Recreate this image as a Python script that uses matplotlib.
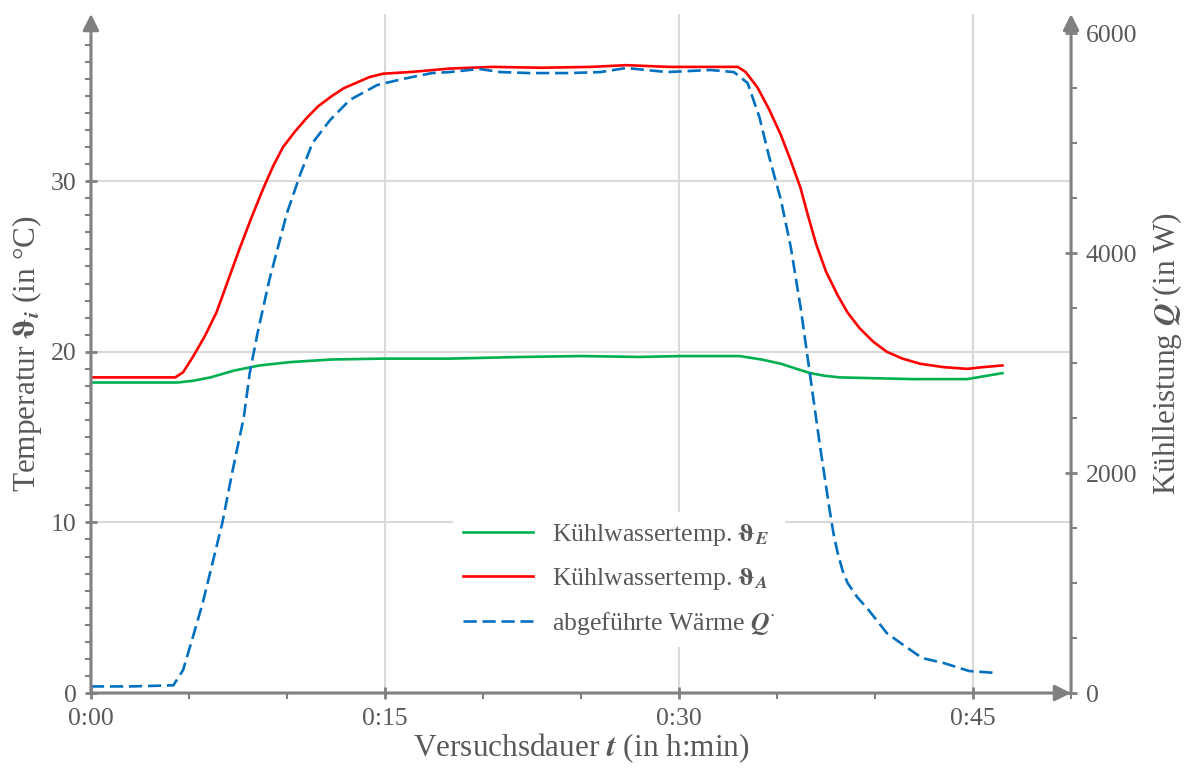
import matplotlib
matplotlib.use("Agg")
import matplotlib.pyplot as plt
from matplotlib.ticker import MultipleLocator

plt.rcParams['font.family'] = ['Liberation Serif', 'DejaVu Serif']
plt.rcParams['mathtext.fontset'] = 'stix'

# --- data (time in minutes) ---
t_out = [0, 2, 4.3, 4.7, 5.2, 5.8, 6.4, 7.0, 7.6, 8.2, 8.8, 9.3, 9.8, 10.4, 11.0, 11.6,
         12.3, 12.9, 13.6, 14.2, 14.9, 15.6, 16.3, 18.3, 20.5, 23.0, 25.5, 27.3, 29.5,
         31.5, 33.0, 33.4, 34.0, 34.6, 35.2, 35.7, 36.2, 36.6, 37.0, 37.5, 38.1, 38.6,
         39.2, 39.9, 40.6, 41.4, 42.3, 43.5, 44.7, 45.5, 46.5]
temp_out = [18.5, 18.5, 18.5, 18.8, 19.7, 20.9, 22.3, 24.2, 26.1, 27.9, 29.6, 30.9, 32.0,
            32.9, 33.7, 34.4, 35.0, 35.45, 35.8, 36.1, 36.3, 36.35, 36.4, 36.6, 36.7, 36.65,
            36.7, 36.8, 36.7, 36.7, 36.7, 36.4, 35.5, 34.2, 32.7, 31.2, 29.6, 27.9, 26.3,
            24.7, 23.3, 22.3, 21.4, 20.6, 20.0, 19.6, 19.3, 19.1, 19.0, 19.1, 19.2]

t_in = [0, 2, 4.4, 5.2, 6.1, 7.3, 8.6, 10.2, 12.3, 14.9, 18.3, 22, 25, 28, 30.1, 33.1,
        34.2, 35.2, 36.0, 36.7, 37.4, 38.2, 40, 41.9, 44.7, 46.5]
temp_in = [18.2, 18.2, 18.2, 18.3, 18.5, 18.9, 19.2, 19.4, 19.55, 19.6, 19.6, 19.7, 19.75,
           19.7, 19.75, 19.75, 19.55, 19.3, 19.0, 18.75, 18.6, 18.5, 18.45, 18.4, 18.4, 18.75]

t_q = [0, 2, 4.2, 4.7, 5.2, 5.7, 6.2, 6.7, 7.2, 7.8, 8.1, 8.5, 9.1, 10.0, 10.7, 11.3, 12.2,
       13.2, 14.6, 15.9, 17.4, 18.3, 19.8, 20.9, 22.4, 24.4, 26.0, 27.3, 29.4, 31.6, 32.8,
       33.5, 34.1, 34.6, 35.2, 35.7, 36.2, 36.7, 37.2, 37.7, 37.9, 38.1, 38.35, 38.6, 39.1,
       39.6, 40.2, 40.6, 41.3, 42.4, 43.5, 44.8, 46.2]
heat = [60, 60, 70, 209, 509, 818, 1182, 1545, 2000, 2509, 2909, 3273, 3755, 4364, 4727,
        5000, 5209, 5391, 5527, 5582, 5636, 5645, 5673, 5645, 5636, 5636, 5645, 5682, 5645,
        5664, 5645, 5545, 5236, 4873, 4482, 4055, 3509, 2873, 2236, 1645, 1430, 1270, 1110,
        1000, 870, 770, 636, 545, 455, 318, 273, 200, 182]

x_ticks = [0, 15, 30, 45]
x_ticklabels = ['0:00', '0:15', '0:30', '0:45']

GREY = '#808080'
TXT = '#595959'

fig = plt.figure(figsize=(11.89, 7.69), dpi=100)
ax = fig.add_axes([0.0765, 0.0988, 0.8243, 0.883])
ax2 = ax.twinx()

l1, = ax.plot(t_in, temp_in, color='#00B050', lw=1.9, label=r'Kühlwassertemp. $\boldsymbol{\vartheta}_{\boldsymbol{E}}$')
l2, = ax.plot(t_out, temp_out, color='#FF0000', lw=1.9, label=r'Kühlwassertemp. $\boldsymbol{\vartheta}_{\boldsymbol{A}}$')
l3, = ax2.plot(t_q, heat, color='#0070C0', lw=1.9, dashes=(5, 2.2),
               label=r'abgeführte Wärme $\boldsymbol{Q}^{\cdot}$')

ax.set_xlim(0, 50)
ax.set_ylim(0, 39.8)
ax2.set_ylim(0, 6173)

ax.set_xticks(x_ticks)
ax.set_xticklabels(x_ticklabels)
ax.xaxis.set_minor_locator(MultipleLocator(5))
ax.yaxis.set_major_locator(MultipleLocator(10))
ax.yaxis.set_minor_locator(MultipleLocator(1))
ax2.yaxis.set_major_locator(MultipleLocator(2000))
ax2.yaxis.set_minor_locator(MultipleLocator(500))

ax.grid(True, which='major', color='#D9D9D9', lw=1.5)
ax.set_axisbelow(True)

for a in (ax, ax2):
    for s in a.spines.values():
        s.set_visible(False)
    a.tick_params(which='major', direction='inout', length=9, width=2, color=GREY,
                  labelsize=18.5, labelcolor=TXT, pad=6)
    a.tick_params(which='minor', direction='out', length=4, width=1.5, color=GREY)

ax.set_xlabel(r'Versuchsdauer $\boldsymbol{t}$ (in h:min)', fontsize=22.5, color=TXT, labelpad=1)
ax.set_ylabel(r'Temperatur $\boldsymbol{\vartheta}_{\boldsymbol{i}}$ (in °C)', fontsize=22.5, color=TXT, labelpad=5)
ax2.set_ylabel(r'Kühlleistung $\boldsymbol{Q}^{\cdot}$(in W)', fontsize=22.5, color=TXT, labelpad=9)

# axis lines with arrow heads
arrow = dict(arrowstyle='-|>', color=GREY, lw=2.2, mutation_scale=24, shrinkA=0, shrinkB=0)
for start, end in [((0, 0), (0, 1)), ((0, 0), (1, 0)), ((1, 0), (1, 1))]:
    ax2.annotate('', xy=end, xytext=start, xycoords='axes fraction',
                 textcoords='axes fraction', arrowprops=arrow, annotation_clip=False)

leg = ax2.legend(handles=[l1, l2, l3], loc='upper left', bbox_to_anchor=(440 / 1189, 1 - 499 / 769),
                 bbox_transform=fig.transFigure, fontsize=18.5, frameon=True, facecolor='white',
                 edgecolor='none', framealpha=1, fancybox=False, handlelength=2.7,
                 handletextpad=0.75, labelspacing=0.7, borderpad=0.4)
for txt in leg.get_texts():
    txt.set_color(TXT)

fig.savefig('out.png', dpi=100)
